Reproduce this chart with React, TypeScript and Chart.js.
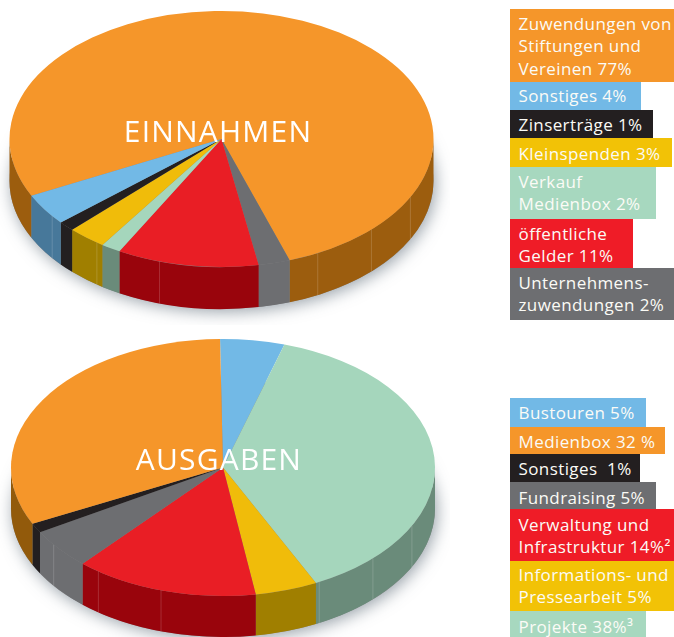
import React, { useEffect, useRef } from "react";
import { Chart, registerables } from "chart.js";

Chart.register(...registerables);

// Legend order, as printed next to each pie
const incomeLabels = [
  "Zuwendungen von\nStiftungen und\nVereinen 77%",
  "Sonstiges 4%",
  "Zinserträge 1%",
  "Kleinspenden 3%",
  "Verkauf\nMedienbox 2%",
  "öffentliche\nGelder 11%",
  "Unternehmens-\nzuwendungen 2%",
];
// Slice sizes as drawn in the picture
const incomeValues = [77.1, 4, 1.25, 2.95, 1.5, 10.8, 2.4];
const incomeTop = ["#f5962a", "#72b9e6", "#231f20", "#f0bc0a", "#a5d6bc", "#e91e25", "#6d6e71"];
const incomeLegend = ["#f5962a", "#72b9e6", "#231f20", "#f2c206", "#a7d8bf", "#ef1c27", "#6d6e71"];
const incomeWall = ["#9c5d0e", "#47789a", "#231f20", "#a07f00", "#6a8b7a", "#99040c", "#6d6e71"];

const spendingLabels = [
  "Bustouren 5%",
  "Medienbox 32 %",
  "Sonstiges  1%",
  "Fundraising 5%",
  "Verwaltung und\nInfrastruktur 14%²",
  "Informations- und\nPressearbeit 5%",
  "Projekte 38%³",
];
const spendingValues = [4.9, 32, 1.2, 5.05, 14, 4.75, 38.1];
const spendingTop = ["#72b9e6", "#f5962a", "#231f20", "#6d6e71", "#e91e25", "#f0bc0a", "#a5d6bc"];
const spendingLegend = ["#72b9e6", "#f5962a", "#231f20", "#6d6e71", "#ef1c27", "#f2c206", "#a7d8bf"];
const spendingWall = ["#47789a", "#925a0b", "#231f20", "#6d6e71", "#99040c", "#a07f00", "#6a8b7a"];

// Layout of the legend boxes: top, height, width, text top
const incomeBoxes = [
  [9, 73, 164, 13],
  [82, 28, 131, 85],
  [110, 28, 143, 114],
  [138, 29, 162, 143],
  [167, 52, 146, 171],
  [219, 49, 123, 223],
  [268, 52, 164, 272],
];
const spendingBoxes = [
  [398, 29, 136, 402],
  [427, 27, 155, 431],
  [454, 28, 130, 458],
  [482, 27, 146, 487],
  [509, 52, 164, 514],
  [561, 50, 164, 564],
  [611, 26, 136, 616],
];
const seamDegrees = [27, 45, 63, 107, 126, 143];
const FONT = '"Open Sans", sans-serif';

// The pie runs clockwise as first legend item, then the others in reverse.
const pieOrder = <T,>(a: T[]): T[] => [a[0], ...a.slice(1).reverse()];

const tilt3d = {
  id: "tilt3d",
  beforeDatasetsDraw(chart: any, _a: any, opts: any) {
    const ctx = chart.ctx;
    const arcs = chart.getDatasetMeta(0).data;
    const { x: cx, y: cy, outerRadius: rx } = arcs[0];
    const ry = rx * opts.ratio;
    const d = opts.depth;
    const walls: string[] = opts.walls;

    ctx.save();
    // soft shadow below the disc
    ctx.save();
    ctx.shadowColor = "rgba(70,85,100,0.55)";
    ctx.shadowBlur = 16;
    ctx.shadowOffsetX = 2;
    ctx.shadowOffsetY = 3;
    ctx.fillStyle = "#888";
    ctx.beginPath();
    ctx.ellipse(cx, cy + d, rx, ry, 0, 0, Math.PI * 2);
    ctx.fill();
    ctx.restore();

    const TAU = Math.PI * 2;
    arcs.forEach((arc: any, i: number) => {
      for (const shift of [0, -TAU, TAU]) {
        const a0 = Math.max(arc.startAngle + shift, 0);
        const a1 = Math.min(arc.endAngle + shift, Math.PI);
        if (a1 <= a0) continue;
        ctx.fillStyle = walls[i];
        ctx.beginPath();
        ctx.ellipse(cx, cy, rx, ry, 0, a0, a1);
        ctx.ellipse(cx, cy + d, rx, ry, 0, a1, a0, true);
        ctx.closePath();
        ctx.fill();
      }
    });
    ctx.strokeStyle = "rgba(255,255,255,0.16)";
    ctx.lineWidth = 1;
    for (const deg of seamDegrees) {
      const t = (deg * Math.PI) / 180;
      const x = cx + rx * Math.cos(t);
      const y = cy + ry * Math.sin(t);
      ctx.beginPath();
      ctx.moveTo(x, y);
      ctx.lineTo(x, y + d);
      ctx.stroke();
    }
    ctx.translate(cx, cy);
    ctx.scale(1, opts.ratio);
    ctx.translate(-cx, -cy);
  },
  afterDatasetsDraw(chart: any) {
    chart.ctx.restore();
  },
};

function Pie(props: {
  labels: string[];
  values: number[];
  top: string[];
  walls: string[];
  rotation: number;
  canvasTop: number;
  width: number;
  height: number;
  padRight: number;
  padBottom: number;
  depth: number;
  ratio: number;
}) {
  const ref = useRef<HTMLCanvasElement>(null);
  useEffect(() => {
    const chart = new Chart(ref.current!, {
      type: "pie",
      data: {
        labels: pieOrder(props.labels),
        datasets: [
          {
            data: pieOrder(props.values),
            backgroundColor: pieOrder(props.top),
            borderWidth: 0,
            radius: 212,
            clip: false,
          } as any,
        ],
      },
      options: {
        responsive: false,
        animation: false,
        rotation: props.rotation,
        layout: { padding: { right: props.padRight, bottom: props.padBottom } },
        events: [],
        plugins: {
          legend: { display: false },
          tooltip: { enabled: false },
          tilt3d: { ratio: props.ratio, depth: props.depth, walls: pieOrder(props.walls) },
        } as any,
      },
      plugins: [tilt3d],
    });
    return () => chart.destroy();
  }, []);
  return (
    <canvas
      ref={ref}
      width={props.width}
      height={props.height}
      style={{ position: "absolute", left: 0, top: props.canvasTop, width: props.width, height: props.height }}
    />
  );
}

function Legend(props: { labels: string[]; colors: string[]; boxes: number[][] }) {
  return (
    <>
      {props.labels.map((label, i) => {
        const [top, height, width, textTop] = props.boxes[i];
        return (
          <div key={i}>
            <div style={{ position: "absolute", left: 510, top, width, height, background: props.colors[i] }} />
            <div
              style={{
                position: "absolute",
                left: 518.5,
                top: textTop,
                whiteSpace: "pre",
                color: "#fbfbf6",
                fontFamily: FONT,
                fontSize: 17,
                letterSpacing: 0.4,
                lineHeight: "22.4px",
              }}
            >
              {label}
            </div>
          </div>
        );
      })}
    </>
  );
}

const centerStyle: React.CSSProperties = {
  position: "absolute",
  color: "#ffffff",
  fontFamily: FONT,
  fontSize: 30,
  fontWeight: 500,
  letterSpacing: 1.2,
  lineHeight: "36px",
  whiteSpace: "pre",
  textAlign: "center",
  transform: "translateX(-50%)",
};

export default function App() {
  return (
    <div style={{ position: "absolute", left: 0, top: 0, width: 674, height: 637, overflow: "hidden", background: "#fff" }}>
      <Pie
        labels={incomeLabels}
        values={incomeValues}
        top={incomeTop}
        walls={incomeWall}
        rotation={243.7}
        canvasTop={0}
        width={450}
        height={325}
        padRight={7}
        padBottom={47}
        depth={42}
        ratio={0.604}
      />
      <Pie
        labels={spendingLabels}
        values={spendingValues}
        top={spendingTop}
        walls={spendingWall}
        rotation={-0.8}
        canvasTop={325}
        width={450}
        height={312}
        padRight={4}
        padBottom={27}
        depth={41}
        ratio={0.606}
      />
      <div style={{ ...centerStyle, left: 218, top: 113 }}>EINNAHMEN</div>
      <div style={{ ...centerStyle, left: 219, top: 441 }}>AUSGABEN</div>
      <Legend labels={incomeLabels} colors={incomeLegend} boxes={incomeBoxes} />
      <Legend labels={spendingLabels} colors={spendingLegend} boxes={spendingBoxes} />
    </div>
  );
}
